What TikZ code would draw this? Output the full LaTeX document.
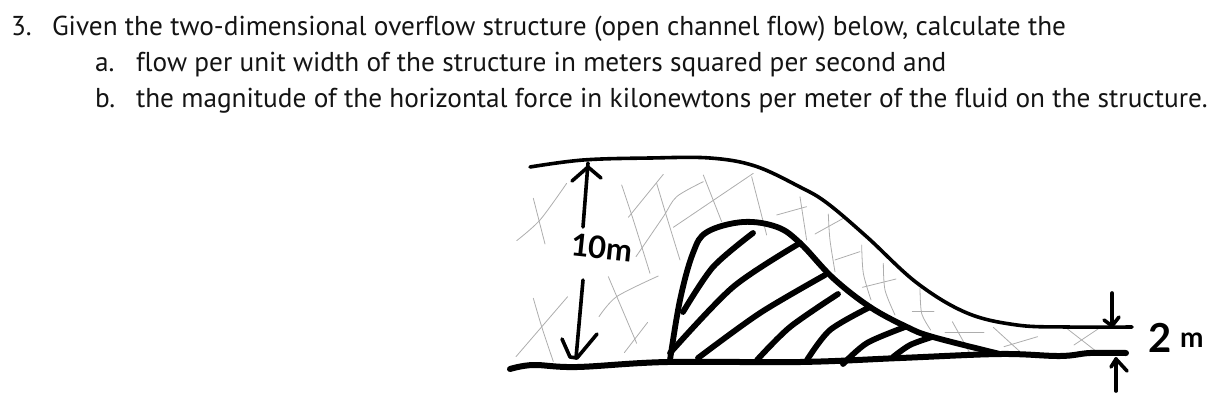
\documentclass[tikz,border=0pt]{standalone}
\usepackage{fontspec}
\setmainfont[Ligatures=CommonOff]{PT Sans}
\newfontfamily\handfont{Lato}
\tikzset{
 txt/.style={anchor=base west,inner sep=0pt,outer sep=0pt,font=\fontsize{27.3}{30}\selectfont,text=black!92},
 hand/.style={inner sep=0pt,outer sep=0pt,font=\handfont},
 thickl/.style={line width=5.8pt,line cap=round,line join=round},
 bed/.style={line width=6pt,line cap=round,line join=round},
 surf/.style={line width=3.6pt,line cap=round,line join=round},
 arr/.style={line width=3.6pt,line cap=round,line join=round},
 grey1/.style={line width=0.8pt,draw=black!32,line cap=round},
}
\begin{document}
\begin{tikzpicture}[x=1pt,y=-1pt]
\useasboundingbox (0,0) rectangle (1228,408);
% text
\node[txt] (n3) at (11,35) {3.};
\node[txt] (l1) at (52,35) {Given the two-dimensional overflow structure (open channel flow) below, calculate the};
\node[txt] (na) at (95,71) {a.};
\node[txt] (l2) at (136,71) {flow per unit width of the structure in meters squared per second and};
\node[txt] (nb) at (95,107) {b.};
\node[txt] (l3) at (136,107) {the magnitude of the horizontal force in kilonewtons per meter of the fluid on the structure.};
% grey crosses, left
\begin{scope}[shift={(500,140)},x=0.3333pt,y=-0.3333pt,every path/.style={grey1}]
\draw (100,175)--(135,312);
\draw plot[smooth] coordinates {(50,302)(120,240)(200,130)};
\draw plot[smooth] coordinates {(365,135)(400,240)(450,400)};
\draw (385,232)--(490,103);
\draw plot[smooth] coordinates {(470,130)(500,230)(540,360)};
\draw plot[smooth] coordinates {(408,350)(490,230)(530,170)(610,125)};
\draw (610,105)--(665,245);
\draw (520,262)--(760,100);
\draw (755,110)--(800,285);
\draw (830,225)--(920,200);
\draw (900,170)--(920,300);
\draw (945,282)--(1030,235);
\draw plot[smooth] coordinates {(985,222)(990,300)(1005,395)};
\draw (1005,360)--(1080,335);
\draw (325,410)--(410,610);
\draw plot[smooth] coordinates {(297,530)(350,470)(475,408)};
\draw plot[smooth] coordinates {(100,475)(125,560)(160,665)};
\draw (48,650)--(203,470);
\draw (373,638)--(443,547);
\end{scope}
\begin{scope}[shift={(800,200)},x=0.3333pt,y=-0.3333pt,every path/.style={grey1}]
\draw plot[smooth] coordinates {(185,135)(190,220)(213,300)};
\draw (187,262)--(288,237);
\draw plot[smooth] coordinates {(250,190)(255,270)(285,345)};
\draw plot[smooth] coordinates {(360,265)(365,340)(392,390)};
\draw (337,335)--(402,335);
\draw (435,396)--(552,396);
\draw (457,365)--(510,460);
\draw (580,382)--(660,455);
\draw (612,440)--(713,410);
\draw (800,385)--(890,455);
\draw (822,435)--(897,385);
\end{scope}
% water surface
\draw[surf] plot[smooth,tension=0.6] coordinates {(530,167)(583,160)(650,158)(710,158)(755,166)(800,187)(827,203)(867,237)(917,283)(967,313)(1017,325)(1067,327)(1132,327)};
% structure
\draw[thickl] plot[smooth,tension=0.6] coordinates {(670,360)(680,300)(693,253)(707,232)(743,222)(777,227)(800,243)(833,278)(870,307)(907,327)(933,337)(1000,354)};
% hatches
\draw[thickl] plot[smooth] coordinates {(683,312)(713,267)(753,233)};
\draw[thickl] plot[smooth] coordinates {(670,353)(733,287)(800,243)};
\draw[thickl] plot[smooth] coordinates {(698,358)(760,313)(825,275)};
\draw[thickl] plot[smooth] coordinates {(757,360)(790,327)(838,294)};
\draw[thickl] plot[smooth] coordinates {(807,360)(830,330)(870,307)};
\draw[thickl] plot[smooth] coordinates {(843,364)(867,343)(905,327)};
\draw[thickl] plot[smooth] coordinates {(893,357)(910,345)(932,337)};
% bed
\draw[bed] plot[smooth,tension=0.6] coordinates {(510,369)(533,365)(577,367)(667,362)(800,362)(900,358)(1000,354)(1060,356)(1090,353)(1126,353)};
% 10 m arrow
\node[hand,font=\handfont\bfseries\fontsize{31}{32}\selectfont,rotate=-6] (ten) at (602,248) {10m};
\coordinate (upa) at (583,227); \coordinate (upb) at (588,163);
\coordinate (dna) at (583,280); \coordinate (dnb) at (576,358);
\draw[arr] (upa)--(upb);
\draw[arr] (572,181)--(588,167)--(601,178);
\draw[arr] (dna)--(dnb);
\draw[arr] (562,339)--(570,357)--(577,358)--(597,334);
% 2 m arrows
\node[hand,font=\handfont\bfseries\fontsize{40}{42}\selectfont,anchor=base west] (two) at (1148,352) {2};
\node[hand,font=\handfont\bfseries\fontsize{28}{30}\selectfont,anchor=base west] (m) at (1180,347) {m};
\coordinate (ta) at (1112,293); \coordinate (tb) at (1112,326);
\coordinate (ba) at (1116,391); \coordinate (bb) at (1116,359);
\draw[arr] (ta)--(tb);
\draw[arr] (1104,320)--(1112,326)--(1119,317);
\draw[arr] (ba)--(bb);
\draw[arr] (1111,367)--(1116,359)--(1127,371);
\end{tikzpicture}
\end{document}
